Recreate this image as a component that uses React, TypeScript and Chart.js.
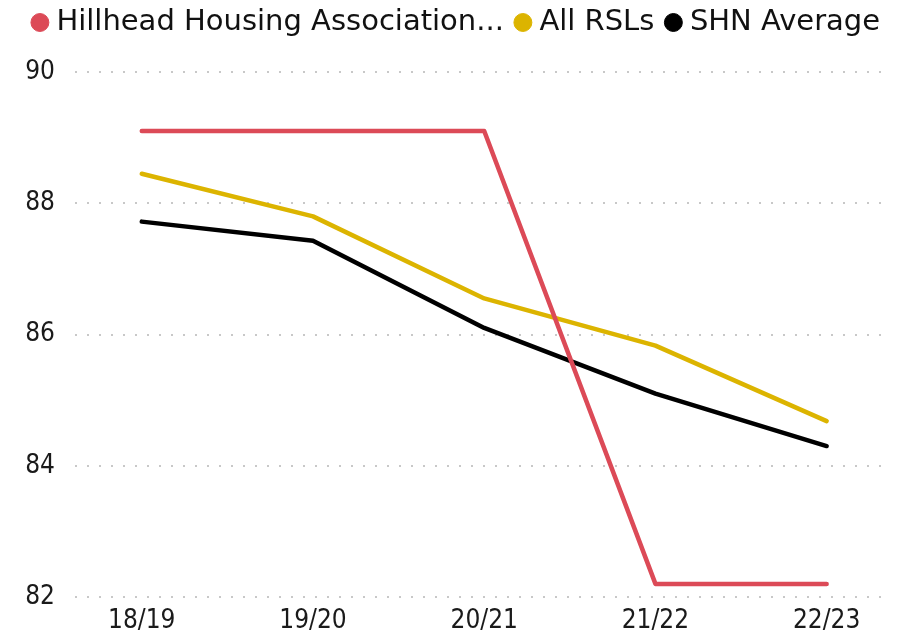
import React, { useEffect, useRef } from "react";
import { Chart, registerables } from "chart.js";

Chart.register(...registerables);

const categories = ["18/19", "19/20", "20/21", "21/22", "22/23"];
const hillhead = [89.1, 89.1, 89.1, 82.2, 82.2];
const allRsls = [88.45, 87.8, 86.55, 85.83, 84.68];
const shnAverage = [87.72, 87.43, 86.1, 85.1, 84.3];
const yTicks = [82, 84, 86, 88, 90];

const LEGEND_FONT = "'DejaVu Sans', sans-serif";
const TICK_FONT = "'DejaVu Sans Condensed', 'DejaVu Sans', sans-serif";

const legendPlacePlugin = {
  id: "legendPlace",
  beforeLayout(chart: any) {
    const lg = chart.legend;
    if (lg && !lg._patched) {
      const orig = lg.fit;
      lg.fit = function () {
        orig.call(this);
        this.height = 72;
      };
      lg._patched = true;
    }
  },
  afterLayout(chart: any) {
    const lg = chart.legend;
    if (lg) {
      lg.top = -9;
      lg.left += 14;
      lg.right += 14;
    }
  },
};

export default function App() {
  const ref = useRef<HTMLCanvasElement>(null);
  useEffect(() => {
    const toPts = (arr: number[]) => arr.map((v, i) => ({ x: i, y: v }));
    const chart = new Chart(ref.current!, {
      type: "line",
      data: {
        datasets: [
          { label: "Hillhead Housing Association...", data: toPts(hillhead), borderColor: "#DC4A57", backgroundColor: "#DC4A57" },
          { label: "All RSLs", data: toPts(allRsls), borderColor: "#DCB400", backgroundColor: "#DCB400" },
          { label: "SHN Average", data: toPts(shnAverage), borderColor: "#000000", backgroundColor: "#000000" },
        ],
      },
      options: {
        animation: false,
        responsive: false,
        maintainAspectRatio: false,
        layout: { padding: { left: 0, right: 14, top: 0, bottom: 0 } },
        elements: {
          line: { borderWidth: 4.5, tension: 0, borderCapStyle: "round", borderJoinStyle: "round" },
          point: { radius: 0, hoverRadius: 0 },
        },
        plugins: {
          tooltip: { enabled: false },
          legend: {
            position: "top",
            align: "center",
            labels: {
              usePointStyle: true,
              pointStyle: "circle",
              boxWidth: 4,
              boxHeight: 12.7,
              padding: 17,
              color: "#111111",
              font: { family: LEGEND_FONT, size: 29 },
            },
          },
        },
        scales: {
          x: {
            type: "linear",
            min: -0.39,
            max: 4.37,
            grid: { display: false },
            border: { display: false },
            afterBuildTicks(scale: any) {
              scale.ticks = categories.map((_, i) => ({ value: i }));
            },
            afterFit(scale: any) {
              scale.height = 41;
            },
            ticks: {
              autoSkip: false,
              maxRotation: 0,
              padding: 1,
              color: "#1a1a1a",
              font: { family: TICK_FONT, size: 26 },
              callback: (v: any) => categories[v as number] ?? "",
            },
          },
          y: {
            min: 82,
            max: 90,
            afterBuildTicks(scale: any) {
              scale.ticks = yTicks.map((v) => ({ value: v }));
            },
            afterFit(scale: any) {
              scale.width = 75;
            },
            border: { display: false, dash: [2, 10] },
            grid: { color: "#C8C8C8", lineWidth: 2, drawTicks: false },
            ticks: {
              padding: 20,
              color: "#1a1a1a",
              font: { family: TICK_FONT, size: 26 },
            },
          },
        },
      },
      plugins: [legendPlacePlugin],
    });
    return () => chart.destroy();
  }, []);
  return (
    <div style={{ position: "fixed", left: 0, top: 0, width: 904, height: 638, background: "#fff" }}>
      <canvas ref={ref} width={904} height={638} style={{ width: 904, height: 638 }} />
    </div>
  );
}
